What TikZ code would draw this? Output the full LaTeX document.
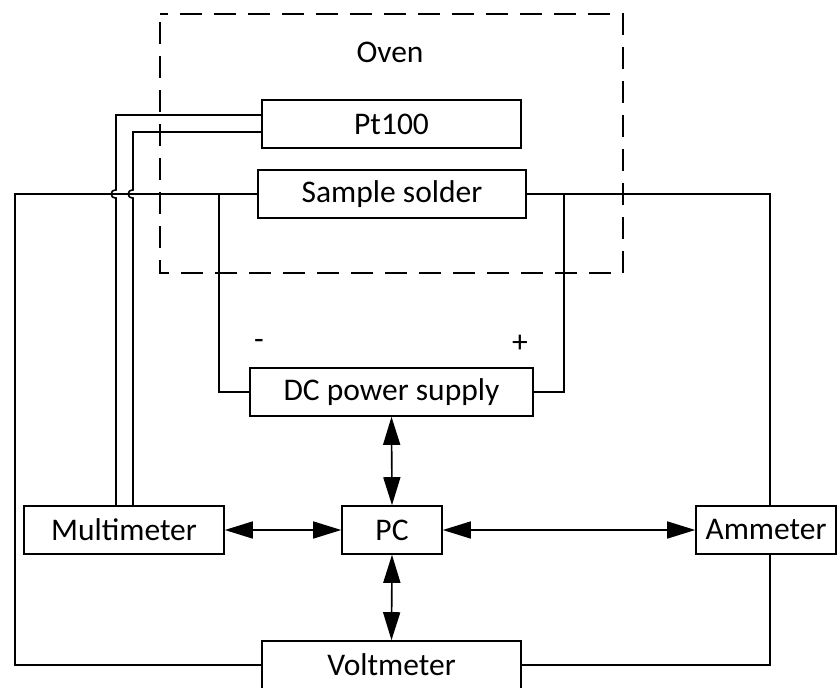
\documentclass[tikz,border=0pt]{standalone}
\usepackage{fontspec}
\setmainfont{Carlito}
\usetikzlibrary{arrows.meta}
\begin{document}
\begin{tikzpicture}[x=1pt,y=-1pt,
  line width=1.6pt,
  box/.style={draw,rectangle,inner sep=0pt,minimum height=48pt,font=\fontsize{31.5}{36}\selectfont},
  lbl/.style={inner sep=0pt,font=\fontsize{31.5}{36}\selectfont},
  dbl/.style={{Triangle[length=28pt,width=17pt]}-{Triangle[length=28pt,width=17pt]},shorten <=0pt,shorten >=0pt},
  wire/.style={line join=miter}]
\useasboundingbox (0,0) rectangle (838,688);
% oven
\draw[dash pattern=on 22pt off 12pt,dash phase=14pt] (160,14) -- (623,14) -- (623,273) -- (160,273) -- cycle;
\node[lbl] (oven) at (390,52) {Oven};
% boxes
\node[box,minimum width=259pt] (pt) at (391.5,124) {Pt100};
\node[box,minimum width=268pt] (sample) at (392,194) {Sample solder};
\node[box,minimum width=283pt] (dc) at (391.5,392) {DC power supply};
\node[box,minimum width=100pt] (pc) at (392,530) {PC};
\node[box,minimum width=200pt] (mm) at (124,530) {Multimeter};
\node[box,minimum width=140pt] (am) at (766,530) {Ammeter};
\node[box,minimum width=259pt] (vm) at (391.5,665) {Voltmeter};
\node[lbl] (minus) at (259,344) {-};
\node[lbl] (plus) at (520,344) {+};
% coordinates
\coordinate (lt) at (15,194);
\coordinate (lb) at (15,665);
\coordinate (rt) at (770,194);
\coordinate (rb) at (770,665);
\coordinate (nl) at (219,194);
\coordinate (nr) at (564,194);
% outer wires
\draw[wire] (sample.west) -- (lt) -- (lb) -- (vm.west);
\draw[wire] (sample.east) -- (rt) -- (am.north -| rt);
\draw[wire] (am.south -| rb) -- (rb) -- (vm.east);
% sample to dc
\draw[wire] (nl) -- (nl |- dc.west) -- (dc.west);
\draw[wire] (nr) -- (nr |- dc.east) -- (dc.east);
% multimeter to pt100 with hops
\coordinate (w1) at (116,115);
\coordinate (w2) at (133,132);
\draw[wire] (mm.north -| w1) -- (116,198) .. controls (109.5,198) and (109.5,190) .. (116,190) -- (w1) -- (w1 -| pt.west);
\draw[wire] (mm.north -| w2) -- (133,198) .. controls (126.5,198) and (126.5,190) .. (133,190) -- (w2) -- (w2 -| pt.west);
% arrows
\draw[dbl] (dc.south) -- (pc.north);
\draw[dbl] (pc.south) -- (vm.north);
\draw[dbl] (mm.east) -- (pc.west);
\draw[dbl] (pc.east) -- (am.west);
\end{tikzpicture}
\end{document}
